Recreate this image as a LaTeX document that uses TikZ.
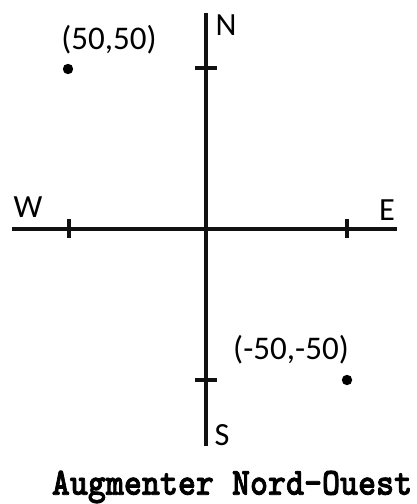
\documentclass[tikz,border=0pt]{standalone}
\usepackage{fontspec}
\setmainfont{Carlito}
\newfontfamily\capfont{lmmonolt10-bold}[Extension=.otf, FakeBold=2]
\usepackage{tikz}
\usetikzlibrary{positioning,calc}
\definecolor{axgrey}{HTML}{111111}
\tikzset{
  axis/.style     = {draw=axgrey, line width=2.4pt},
  tickmark/.style = {draw=axgrey, line width=2.2pt},
  pt/.style       = {circle, fill=black, minimum size=0.26cm, inner sep=0pt},
  dirlbl/.style   = {font=\fontsize{23}{26}\selectfont, inner sep=0pt},
  ptlbl/.style    = {font=\fontsize{23.5}{26}\selectfont, inner sep=0pt},
  caption/.style  = {font=\capfont\fontsize{24.4}{28}\selectfont,
                     inner sep=0pt, yscale=1.12, transform shape},
}

\begin{document}
\begin{tikzpicture}[x=0.025cm, y=-0.025cm]
  \useasboundingbox (0,0) rectangle (416,504);

  % ---------- axes --------------------------------------------------------
  \coordinate (nEnd) at (206,13);
  \coordinate (sEnd) at (206,446);
  \coordinate (wEnd) at (12,229);
  \coordinate (eEnd) at (397,229);
  \draw[axis] (nEnd) -- (sEnd);
  \draw[axis] (wEnd) -- (eEnd);

  % ---------- ticks -------------------------------------------------------
  \foreach \ty in {68,380}
    \draw[tickmark] (195,\ty) -- (217,\ty);
  \foreach \tx in {69,347}
    \draw[tickmark] (\tx,219) -- (\tx,238);

  % ---------- directions --------------------------------------------------
  \node[dirlbl] (north) at (226,25)  {N};
  \node[dirlbl] (south) at (222,435) {S};
  \node[dirlbl] (west)  at (28,207)  {W};
  \node[dirlbl] (east)  at (387,210) {E};

  % ---------- points ------------------------------------------------------
  \node[pt] (pNW) at (68,69) {};
  \node[pt] (pSE) at (347,380) {};
  \node[ptlbl] (lNW) at (109,40)  {(50,50)};
  \node[ptlbl] (lSE) at (291,350) {(-50,-50)};

  \node[caption] (cap) at (232,487) {Augmenter Nord-Ouest};

\end{tikzpicture}
\end{document}
